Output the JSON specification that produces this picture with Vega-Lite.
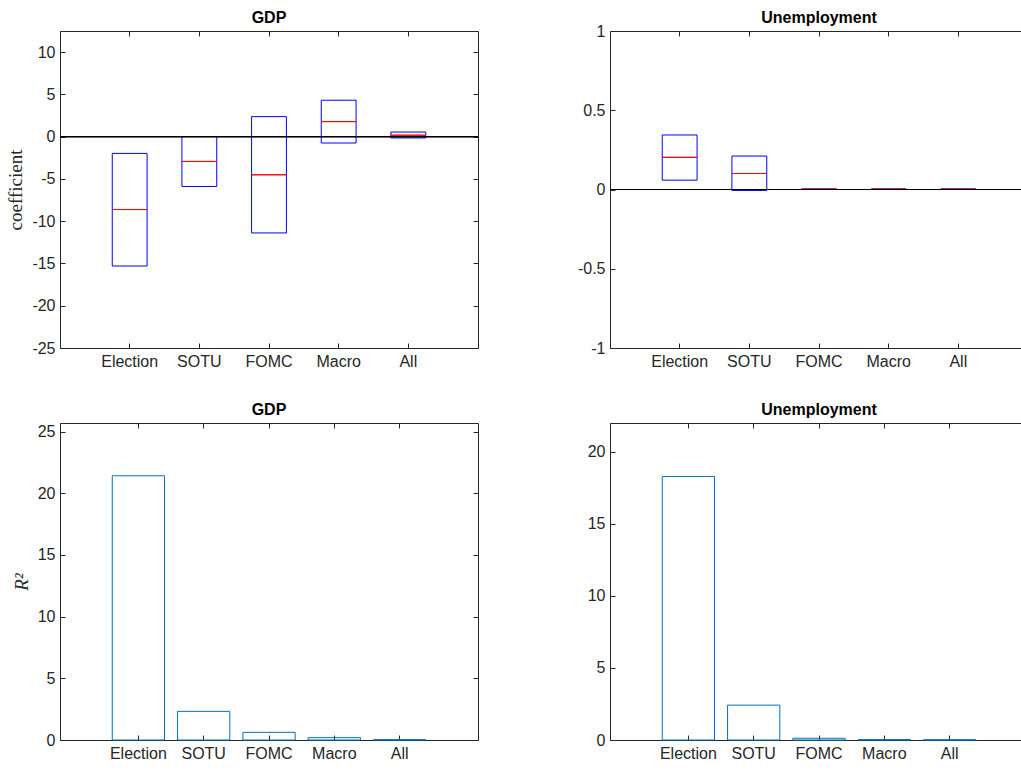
{
  "$schema": "https://vega.github.io/schema/vega-lite/v6.json",
  "background": "white",
  "padding": {"left": 6, "top": 9, "right": 0, "bottom": 5},
  "datasets": {
    "coefGDP": [
      {"event": "Election", "lo": -15.3, "hi": -1.98, "med": -8.62},
      {"event": "SOTU", "lo": -5.89, "hi": 0.02, "med": -2.93},
      {"event": "FOMC", "lo": -11.39, "hi": 2.37, "med": -4.51},
      {"event": "Macro", "lo": -0.75, "hi": 4.31, "med": 1.78},
      {"event": "All", "lo": -0.15, "hi": 0.55, "med": 0.17}
    ],
    "coefUnemp": [
      {"event": "Election", "lo": 0.059, "hi": 0.344, "med": 0.203},
      {"event": "SOTU", "lo": -0.006, "hi": 0.211, "med": 0.101},
      {"event": "FOMC", "lo": 0.0, "hi": 0.004, "med": 0.002},
      {"event": "Macro", "lo": 0.0, "hi": 0.004, "med": 0.002},
      {"event": "All", "lo": 0.0, "hi": 0.004, "med": 0.002}
    ],
    "r2GDP": [
      {"event": "Election", "r2": 21.42},
      {"event": "SOTU", "r2": 2.32},
      {"event": "FOMC", "r2": 0.62},
      {"event": "Macro", "r2": 0.19},
      {"event": "All", "r2": 0.03}
    ],
    "r2Unemp": [
      {"event": "Election", "r2": 18.29},
      {"event": "SOTU", "r2": 2.42},
      {"event": "FOMC", "r2": 0.12},
      {"event": "Macro", "r2": 0.03},
      {"event": "All", "r2": 0.02}
    ]
  },
  "config": {
    "view": {"stroke": "#262626", "strokeWidth": 1},
    "axis": {
      "labelFont": "Liberation Sans",
      "labelFontSize": 16,
      "labelColor": "#262626",
      "domainColor": "#262626",
      "tickColor": "#262626",
      "tickSize": -5,
      "labelPadding": 10,
      "grid": false,
      "titleFont": "Liberation Serif",
      "titleFontWeight": "normal",
      "titleFontSize": 19,
      "titleColor": "#262626"
    },
    "title": {"font": "Liberation Sans", "fontSize": 16, "fontWeight": "bold", "color": "#000000", "offset": 5, "frame": "group"}
  },
  "columns": 2,
  "spacing": {"row": 75, "column": 132},
  "bounds": "flush",
  "concat": [
    {
      "title": {"text": "GDP", "frame": "group"},
      "width": 418,
      "height": 317,
      "data": {"name": "coefGDP"},
      "layer": [
        {
          "mark": {"type": "bar", "fill": "transparent", "stroke": "#0000FF", "strokeWidth": 1},
          "encoding": {
            "x": {"field": "event", "type": "nominal", "sort": null,
              "scale": {"domain": ["Election", "SOTU", "FOMC", "Macro", "All"], "paddingInner": 0.5, "paddingOuter": 0.75},
              "axis": {"title": null, "labelAngle": 0, "orient": "bottom"}},
            "y": {"field": "lo", "type": "quantitative",
              "scale": {"domain": [-25, 12.5], "nice": false, "zero": false},
              "axis": {"title": "coefficient", "values": [-25, -20, -15, -10, -5, 0, 5, 10], "labelExpr": "'' + datum.value", "titlePadding": 6, "orient": "left"}},
            "y2": {"field": "hi"}
          }
        },
        {
          "mark": {"type": "bar", "fill": "transparent", "stroke": "#FF0000", "strokeWidth": 1},
          "encoding": {
            "x": {"field": "event", "type": "nominal", "sort": null,
              "axis": {"title": null, "labels": false, "orient": "top", "domain": false}},
            "y": {"field": "med", "type": "quantitative",
              "axis": {"title": null, "labels": false, "orient": "right", "domain": false, "values": [-25, -20, -15, -10, -5, 0, 5, 10]}},
            "y2": {"field": "med"}
          }
        },
        {
          "mark": {"type": "rule", "color": "#000000", "strokeWidth": 1},
          "encoding": {"y": {"datum": 0, "axis": null}}
        }
      ],
      "resolve": {"axis": {"x": "independent", "y": "independent"}}
    },
    {
      "title": {"text": "Unemployment", "frame": "group", "offset": -3},
      "width": 418,
      "height": 317,
      "data": {"name": "coefUnemp"},
      "layer": [
        {
          "mark": {"type": "bar", "fill": "transparent", "stroke": "#0000FF", "strokeWidth": 1},
          "encoding": {
            "x": {"field": "event", "type": "nominal", "sort": null,
              "scale": {"domain": ["Election", "SOTU", "FOMC", "Macro", "All"], "paddingInner": 0.5, "paddingOuter": 0.75},
              "axis": {"title": null, "labelAngle": 0, "orient": "bottom"}},
            "y": {"field": "lo", "type": "quantitative",
              "scale": {"domain": [-1, 1], "nice": false, "zero": false},
              "axis": {"title": null, "values": [-1, -0.5, 0, 0.5, 1], "labelExpr": "'' + datum.value", "orient": "left"}},
            "y2": {"field": "hi"}
          }
        },
        {
          "mark": {"type": "bar", "fill": "transparent", "stroke": "#FF0000", "strokeWidth": 1},
          "encoding": {
            "x": {"field": "event", "type": "nominal", "sort": null,
              "axis": {"title": null, "labels": false, "orient": "top", "domain": false}},
            "y": {"field": "med", "type": "quantitative",
              "axis": {"title": null, "labels": false, "orient": "right", "domain": false, "values": [-1, -0.5, 0, 0.5, 1]}},
            "y2": {"field": "med"}
          }
        },
        {
          "mark": {"type": "rule", "color": "#000000", "strokeWidth": 1},
          "encoding": {"y": {"datum": 0, "axis": null}}
        }
      ],
      "resolve": {"axis": {"x": "independent", "y": "independent"}}
    },
    {
      "title": {"text": "GDP", "frame": "group"},
      "width": 418,
      "height": 317,
      "data": {"name": "r2GDP"},
      "layer": [
        {
          "mark": {"type": "bar", "fill": "transparent", "stroke": "#0072BD", "strokeWidth": 1},
          "encoding": {
            "x": {"field": "event", "type": "nominal", "sort": null,
              "scale": {"domain": ["Election", "SOTU", "FOMC", "Macro", "All"], "paddingInner": 0.2, "paddingOuter": 0.8},
              "axis": {"title": null, "labelAngle": 0, "orient": "bottom"}},
            "y": {"field": "r2", "type": "quantitative",
              "scale": {"domain": [0, 25.7], "nice": false},
              "axis": {"title": "R²", "titleFontStyle": "italic", "values": [0, 5, 10, 15, 20, 25], "labelExpr": "'' + datum.value", "titlePadding": 6, "orient": "left"}}
          }
        },
        {
          "mark": {"type": "bar", "fill": "transparent", "stroke": "#0072BD", "strokeWidth": 1, "opacity": 0},
          "encoding": {
            "x": {"field": "event", "type": "nominal", "sort": null,
              "axis": {"title": null, "labels": false, "orient": "top", "domain": false}},
            "y": {"field": "r2", "type": "quantitative",
              "axis": {"title": null, "labels": false, "orient": "right", "domain": false, "values": [0, 5, 10, 15, 20, 25]}}
          }
        }
      ],
      "resolve": {"axis": {"x": "independent", "y": "independent"}}
    },
    {
      "title": {"text": "Unemployment", "frame": "group"},
      "width": 418,
      "height": 317,
      "data": {"name": "r2Unemp"},
      "layer": [
        {
          "mark": {"type": "bar", "fill": "transparent", "stroke": "#0072BD", "strokeWidth": 1},
          "encoding": {
            "x": {"field": "event", "type": "nominal", "sort": null,
              "scale": {"domain": ["Election", "SOTU", "FOMC", "Macro", "All"], "paddingInner": 0.2, "paddingOuter": 0.8},
              "axis": {"title": null, "labelAngle": 0, "orient": "bottom"}},
            "y": {"field": "r2", "type": "quantitative",
              "scale": {"domain": [0, 22], "nice": false},
              "axis": {"title": null, "values": [0, 5, 10, 15, 20], "labelExpr": "'' + datum.value", "orient": "left"}}
          }
        },
        {
          "mark": {"type": "bar", "fill": "transparent", "stroke": "#0072BD", "strokeWidth": 1, "opacity": 0},
          "encoding": {
            "x": {"field": "event", "type": "nominal", "sort": null,
              "axis": {"title": null, "labels": false, "orient": "top", "domain": false}},
            "y": {"field": "r2", "type": "quantitative",
              "axis": {"title": null, "labels": false, "orient": "right", "domain": false, "values": [0, 5, 10, 15, 20]}}
          }
        }
      ],
      "resolve": {"axis": {"x": "independent", "y": "independent"}}
    }
  ]
}
